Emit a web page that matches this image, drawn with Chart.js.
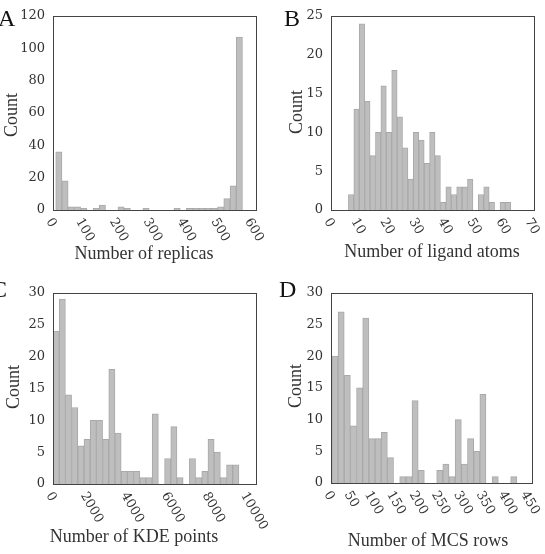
<!DOCTYPE html>
<html>
<head>
<meta charset="utf-8">
<script src="https://cdn.jsdelivr.net/npm/chart.js@4"></script>
<style>
  body { margin: 0; background: #fff; }
  canvas { position: absolute; }
</style>
</head>
<body>
<canvas id="panel-a" width="272" height="277" style="left:0;top:0"></canvas>
<canvas id="panel-b" width="273" height="277" style="left:272px;top:0"></canvas>
<canvas id="panel-c" width="272" height="277" style="left:0;top:277px"></canvas>
<canvas id="panel-d" width="273" height="277" style="left:272px;top:277px"></canvas>
<script>
// A - number of replicas, 30 bins between 8 and 560
const replicaRange = [8, 560];
const replicaCounts = [36, 18, 2, 2, 1, 0, 1, 3, 0, 0, 2, 1, 0, 0, 1, 0, 0, 0, 0, 1, 0, 1, 1, 1, 1, 1, 2, 7, 15, 107];
const replicaTicks = [0, 600, 100];

// B - number of ligand atoms, 30 bins between 6 and 62
const atomRange = [6, 62];
const atomCounts = [2, 13, 24, 14, 7, 10, 16, 10, 18, 12, 8, 4, 10, 9, 6, 10, 7, 1, 3, 2, 3, 3, 4, 0, 2, 3, 1, 0, 1, 1];
const atomTicks = [0, 70, 10];

// C - number of KDE points, 30 bins between 0 and 9160
const kdeRange = [0, 9160];
const kdeCounts = [24, 29, 14, 12, 6, 7, 10, 10, 7, 18, 8, 2, 2, 2, 1, 1, 11, 0, 4, 9, 1, 0, 4, 1, 2, 7, 5, 1, 3, 3];
const kdeTicks = [0, 10000, 2000];

// D - number of MCS rows, 30 bins between 2 and 416
const mcsRange = [2, 416];
const mcsCounts = [20, 27, 17, 9, 15, 26, 7, 7, 8, 4, 0, 1, 1, 13, 2, 0, 0, 2, 3, 1, 10, 3, 7, 5, 14, 0, 1, 0, 0, 1];
const mcsTicks = [0, 450, 50];

// y axes [max, step]
const replicaY = [120, 20];
const atomY = [25, 5];
const kdeY = [30, 5];
const mcsY = [30, 5];

// frame, rotated x tick labels, axis titles and panel letter
const panelDecor = {
  id: 'panelDecor',
  afterDraw(chart, args, o) {
    const ctx = chart.ctx;
    const a = chart.chartArea;
    const x = chart.scales.x;
    ctx.save();
    ctx.strokeStyle = '#444';
    ctx.lineWidth = 1;
    ctx.strokeRect(Math.round(a.left) + 0.5, Math.round(a.top) + 0.5,
      Math.round(a.right - a.left), Math.round(a.bottom - a.top));

    ctx.fillStyle = '#333';
    ctx.font = '13px "DejaVu Serif"';
    const ang = 60 * Math.PI / 180;
    x.ticks.forEach(t => {
      const label = String(t.value);
      const w = ctx.measureText(label).width;
      const ext = w * Math.sin(ang) + 9 * Math.cos(ang);
      ctx.save();
      ctx.translate(x.getPixelForValue(t.value) - 2, a.bottom + 7 + ext / 2);
      ctx.rotate(ang);
      ctx.textAlign = 'center';
      ctx.textBaseline = 'middle';
      ctx.fillText(label, 0, 0);
      ctx.restore();
    });

    ctx.font = '18px "Liberation Serif"';
    ctx.textAlign = 'center';
    ctx.textBaseline = 'alphabetic';
    ctx.fillText(o.xTitle, o.xTitlePos[0], o.xTitlePos[1]);

    ctx.save();
    ctx.translate(o.yTitlePos[0], o.yTitlePos[1]);
    ctx.rotate(-Math.PI / 2);
    ctx.textBaseline = 'middle';
    ctx.fillText('Count', 0, 0);
    ctx.restore();

    ctx.fillStyle = '#111';
    ctx.font = '24px "Liberation Serif"';
    ctx.textAlign = 'left';
    ctx.fillText(o.letter, o.letterPos[0], o.letterPos[1]);
    ctx.restore();
  }
};

function histogram(id, range, counts, xTicks, yAxis, box, decor) {
  const width = (range[1] - range[0]) / counts.length;
  const points = counts.map((c, i) => ({ x: range[0] + (i + 0.5) * width, y: c }));
  return new Chart(document.getElementById(id), {
    type: 'bar',
    data: {
      datasets: [{
        data: points,
        backgroundColor: '#bebebe',
        borderColor: '#a9a9a9',
        borderWidth: 1,
        barPercentage: 1,
        categoryPercentage: 1
      }]
    },
    options: {
      responsive: false,
      animation: false,
      devicePixelRatio: 1,
      layout: { padding: { left: 0, top: box.top, right: box.right, bottom: 0 } },
      plugins: { legend: { display: false }, tooltip: { enabled: false }, panelDecor: decor },
      scales: {
        x: {
          type: 'linear',
          offset: false,
          min: xTicks[0],
          max: xTicks[1],
          ticks: { stepSize: xTicks[2], display: false },
          grid: { display: false, drawTicks: false },
          border: { display: false },
          afterFit(s) { s.height = box.xHeight; }
        },
        y: {
          min: 0,
          max: yAxis[0],
          ticks: { stepSize: yAxis[1], padding: 8, color: '#333', font: { family: 'DejaVu Serif', size: 13 } },
          grid: { display: false, drawTicks: false },
          border: { display: false },
          afterFit(s) { s.width = box.yWidth; }
        }
      }
    },
    plugins: [panelDecor]
  });
}

const chartA = histogram('panel-a', replicaRange, replicaCounts, replicaTicks, replicaY,
  { top: 16, right: 16, yWidth: 53, xHeight: 67 },
  { letter: 'A', letterPos: [-2, 26], xTitle: 'Number of replicas', xTitlePos: [144, 259], yTitlePos: [12, 115] });

const chartB = histogram('panel-b', atomRange, atomCounts, atomTicks, atomY,
  { top: 16, right: 11, yWidth: 59, xHeight: 67 },
  { letter: 'B', letterPos: [12, 26], xTitle: 'Number of ligand atoms', xTitlePos: [160, 257], yTitlePos: [25, 112] });

const chartC = histogram('panel-c', kdeRange, kdeCounts, kdeTicks, kdeY,
  { top: 13, right: 16, yWidth: 53, xHeight: 70 },
  { letter: 'C', letterPos: [-9, 20], xTitle: 'Number of KDE points', xTitlePos: [134, 265], yTitlePos: [14, 110] });

const chartD = histogram('panel-d', mcsRange, mcsCounts, mcsTicks, mcsY,
  { top: 13, right: 13, yWidth: 59, xHeight: 71 },
  { letter: 'D', letterPos: [7, 20], xTitle: 'Number of MCS rows', xTitlePos: [156, 269], yTitlePos: [24, 109] });
</script>
</body>
</html>
